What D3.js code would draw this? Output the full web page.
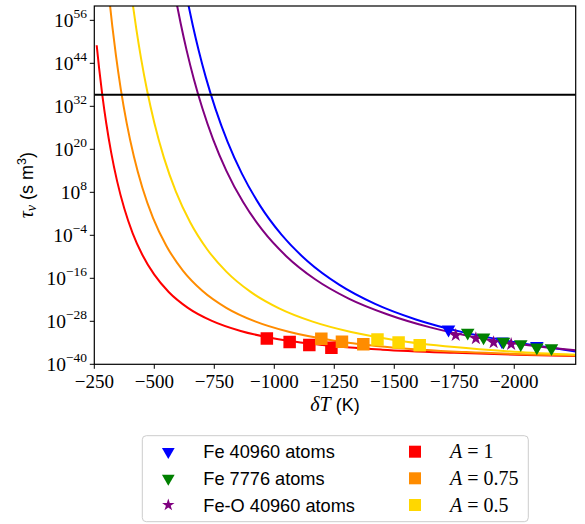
<!DOCTYPE html>
<html lang="en">
<head>
    <meta charset="UTF-8">
    <title>Nucleation time vs undercooling</title>
    <script src="https://cdnjs.cloudflare.com/ajax/libs/d3/7.8.5/d3.min.js"></script>
    <style>
        body {
            margin: 0;
            background: white;
        }
        .serif {
            font-family: "Liberation Serif", "DejaVu Serif", serif;
        }
        .sans {
            font-family: "Liberation Sans", Arial, sans-serif;
        }
    </style>
</head>
<body>
    <div id="chart"></div>

    <script>
        // Undercooling (K) and log10 of tau_v
        const curveA1T = [-260, -270, -283, -300, -320, -345, -375, -410, -450, -500, -560, -640, -740, -860, -1000, -1200, -1450, -1750, -2050, -2256];
        const curveA1Tau = [49.05, 42.67, 35.36, 27.2, 19.22, 11.12, 3.47, -3.43, -9.43, -14.99, -19.81, -24.24, -27.89, -30.71, -32.8, -34.61, -35.91, -36.79, -37.4, -37.7];

        const curveA075T = [-314, -325, -340, -360, -385, -415, -450, -495, -550, -620, -700, -800, -920, -1060, -1250, -1500, -1800, -2100, -2256];
        const curveA075Tau = [61.1, 54.38, 46.26, 36.96, 27.32, 17.97, 9.34, 0.81, -6.9, -13.91, -19.48, -24.24, -28.03, -30.93, -33.41, -35.36, -36.6, -37.3, -37.55];

        const curveA05T = [-410, -425, -445, -470, -500, -540, -590, -650, -720, -800, -900, -1020, -1160, -1320, -1500, -1750, -2000, -2256];
        const curveA05Tau = [60.63, 53.6, 45.31, 36.4, 27.42, 17.69, 8.2, -0.42, -7.88, -14.13, -19.72, -24.38, -28.09, -30.98, -33.19, -35.2, -36.5, -37.35];

        const curveFeOT = [-594, -610, -635, -665, -700, -745, -800, -870, -950, -1050, -1170, -1310, -1470, -1650, -1850, -2050, -2256];
        const curveFeOTau = [60.45, 55.1, 47.54, 39.56, 31.52, 22.8, 14.07, 5.27, -2.5, -9.83, -16.27, -21.66, -26.03, -29.7, -32.6, -34.6, -36.1];

        const curveFeT = [-642, -660, -685, -715, -755, -805, -865, -940, -1030, -1140, -1270, -1420, -1590, -1780, -2000, -2256];
        const curveFeTau = [60.34, 54.69, 47.58, 40.01, 31.28, 22.14, 13.21, 4.35, -3.83, -11.32, -17.78, -23.15, -27.49, -30.95, -33.79, -36.4];

        // Simulation points
        const fe40960T = [-1726, -1949, -2094];
        const fe40960Tau = [-30.3, -33.6, -34.9];
        const fe7776T = [-1806, -1872, -1955, -2027, -2094, -2155];
        const fe7776Tau = [-31.2, -32.5, -33.7, -34.4, -35.3, -35.5];
        const feO40960T = [-1756, -1840, -1914, -1987];
        const feO40960Tau = [-31.9, -32.8, -33.9, -34.4];

        const sqA1T = [-969, -1064, -1146, -1238];
        const sqA1Tau = [-32.8, -33.8, -34.6, -35.4];
        const sqA075T = [-1196, -1282, -1371];
        const sqA075Tau = [-32.9, -33.7, -34.4];
        const sqA05T = [-1430, -1518, -1606];
        const sqA05Tau = [-33.1, -33.9, -34.7];

        const thresholdTau = 35.2;

        const xTicks = [-250, -500, -750, -1000, -1250, -1500, -1750, -2000];
        const yTickExps = [-40, -28, -16, -4, 8, 20, 32, 44, 56];

        // Layout
        const width = 585;
        const height = 524;
        const plot = { left: 94.3, right: 575.7, top: 6, bottom: 364.3 };

        const x = d3.scaleLinear()
            .domain([-250, -2256])
            .range([plot.left, plot.right]);

        const y = d3.scaleLog()
            .domain([1e-40, 1e60])
            .range([plot.bottom, plot.top]);

        const zip = (ts, es) => ts.map((t, i) => ({ t: t, tau: Math.pow(10, es[i]) }));

        const svg = d3.select("#chart")
            .append("svg")
            .attr("width", width)
            .attr("height", height);

        svg.append("defs").append("clipPath")
            .attr("id", "plot-clip")
            .append("rect")
            .attr("x", plot.left)
            .attr("y", plot.top)
            .attr("width", plot.right - plot.left)
            .attr("height", plot.bottom - plot.top);

        const g = svg.append("g").attr("clip-path", "url(#plot-clip)");

        const line = d3.line()
            .x(d => x(d.t))
            .y(d => y(d.tau))
            .curve(d3.curveMonotoneX);

        const curves = [
            { t: curveA1T, tau: curveA1Tau, color: "#ff0000" },
            { t: curveA075T, tau: curveA075Tau, color: "#ff8c00" },
            { t: curveA05T, tau: curveA05Tau, color: "#ffd700" },
            { t: curveFeT, tau: curveFeTau, color: "#0000ff" },
            { t: curveFeOT, tau: curveFeOTau, color: "#800080" }
        ];

        curves.forEach(c => {
            g.append("path")
                .attr("d", line(zip(c.t, c.tau)))
                .attr("fill", "none")
                .attr("stroke", c.color)
                .attr("stroke-width", 2);
        });

        // Threshold line
        g.append("line")
            .attr("x1", x(-250))
            .attr("x2", x(-2256))
            .attr("y1", y(Math.pow(10, thresholdTau)))
            .attr("y2", y(Math.pow(10, thresholdTau)))
            .attr("stroke", "black")
            .attr("stroke-width", 2);

        // Markers
        const square = d3.symbol(d3.symbolSquare, 156);
        const triangle = d3.symbol(d3.symbolTriangle, 80);
        const star = d3.symbol(d3.symbolStar, 58);

        function drawMarkers(ts, es, sym, color, rotate) {
            g.selectAll(null)
                .data(zip(ts, es))
                .enter()
                .append("path")
                .attr("d", sym)
                .attr("transform", d => `translate(${x(d.t)},${y(d.tau)})` + (rotate ? " rotate(180)" : ""))
                .attr("fill", color);
        }

        drawMarkers(sqA1T, sqA1Tau, square, "#ff0000", false);
        drawMarkers(sqA075T, sqA075Tau, square, "#ff8c00", false);
        drawMarkers(sqA05T, sqA05Tau, square, "#ffd700", false);
        drawMarkers(fe40960T, fe40960Tau, triangle, "#0000ff", true);
        drawMarkers(feO40960T, feO40960Tau, star, "#800080", false);
        drawMarkers(fe7776T, fe7776Tau, triangle, "#008000", true);

        // Frame
        svg.append("rect")
            .attr("x", plot.left)
            .attr("y", plot.top)
            .attr("width", plot.right - plot.left)
            .attr("height", plot.bottom - plot.top)
            .attr("fill", "none")
            .attr("stroke", "black")
            .attr("stroke-width", 1.2);

        // X axis
        const xAxis = svg.append("g");
        xTicks.forEach(v => {
            xAxis.append("line")
                .attr("x1", x(v)).attr("x2", x(v))
                .attr("y1", plot.bottom).attr("y2", plot.bottom + 4.5)
                .attr("stroke", "black");
            xAxis.append("text")
                .attr("class", "serif")
                .attr("x", x(v))
                .attr("y", 388)
                .attr("text-anchor", "middle")
                .style("font-size", "19px")
                .text("\u2212" + Math.abs(v));
        });

        // Y axis
        const yAxis = svg.append("g");
        yTickExps.forEach(e => {
            const yy = y(Math.pow(10, e));
            yAxis.append("line")
                .attr("x1", plot.left - 4.5).attr("x2", plot.left)
                .attr("y1", yy).attr("y2", yy)
                .attr("stroke", "black");
            const t = yAxis.append("text")
                .attr("class", "serif")
                .attr("x", 87)
                .attr("y", yy + 6.5)
                .attr("text-anchor", "end")
                .style("font-size", "19.5px");
            t.append("tspan").text("10");
            t.append("tspan")
                .attr("dy", -9)
                .style("font-size", "13.5px")
                .text(e < 0 ? "\u2212" + Math.abs(e) : String(e));
        });

        // Axis labels
        const xl = svg.append("text")
            .attr("x", (plot.left + plot.right) / 2)
            .attr("y", 411)
            .attr("text-anchor", "middle");
        xl.append("tspan").attr("class", "serif").style("font-style", "italic").style("font-size", "20px").text("\u03B4T");
        xl.append("tspan").attr("class", "sans").style("font-size", "18px").text(" (K)");

        const yl = svg.append("text")
            .attr("transform", `translate(33,${(plot.top + plot.bottom) / 2}) rotate(-90)`)
            .attr("text-anchor", "middle");
        yl.append("tspan").attr("class", "serif").style("font-style", "italic").style("font-size", "20px").text("\u03C4");
        yl.append("tspan").attr("class", "serif").style("font-style", "italic").style("font-size", "14px").attr("dy", 3).text("v");
        yl.append("tspan").attr("class", "sans").style("font-size", "18px").attr("dy", -3).text(" (s m");
        yl.append("tspan").attr("class", "sans").style("font-size", "12.5px").attr("dy", -7).text("3");
        yl.append("tspan").attr("class", "sans").style("font-size", "18px").attr("dy", 7).text(")");

        // Legend
        const legend = svg.append("g");
        legend.append("rect")
            .attr("x", 142.3).attr("y", 435.7)
            .attr("width", 386).attr("height", 86)
            .attr("rx", 4)
            .attr("fill", "white")
            .attr("stroke", "#cccccc")
            .attr("stroke-width", 1);

        const legendLeft = [
            { label: "Fe 40960 atoms", sym: d3.symbol(d3.symbolTriangle, 70), color: "#0000ff", rotate: true },
            { label: "Fe 7776 atoms", sym: d3.symbol(d3.symbolTriangle, 70), color: "#008000", rotate: true },
            { label: "Fe-O 40960 atoms", sym: d3.symbol(d3.symbolStar, 48), color: "#800080", rotate: false }
        ];
        const legendRight = [
            { a: "1", color: "#ff0000" },
            { a: "0.75", color: "#ff8c00" },
            { a: "0.5", color: "#ffd700" }
        ];
        const rowY = [451.7, 478.3, 505];

        legendLeft.forEach((d, i) => {
            legend.append("path")
                .attr("d", d.sym)
                .attr("transform", `translate(168.3,${rowY[i]})` + (d.rotate ? " rotate(180)" : ""))
                .attr("fill", d.color);
            legend.append("text")
                .attr("class", "sans")
                .attr("x", 203.3)
                .attr("y", rowY[i] + 6.5)
                .style("font-size", "18.2px")
                .text(d.label);
        });

        legendRight.forEach((d, i) => {
            legend.append("rect")
                .attr("x", 415 - 6).attr("y", rowY[i] - 6)
                .attr("width", 12).attr("height", 12)
                .attr("fill", d.color);
            const t = legend.append("text")
                .attr("class", "serif")
                .attr("x", 450)
                .attr("y", rowY[i] + 6.5)
                .style("font-size", "20px");
            t.append("tspan").style("font-style", "italic").text("A");
            t.append("tspan").text(" = " + d.a);
        });
    </script>
</body>
</html>
